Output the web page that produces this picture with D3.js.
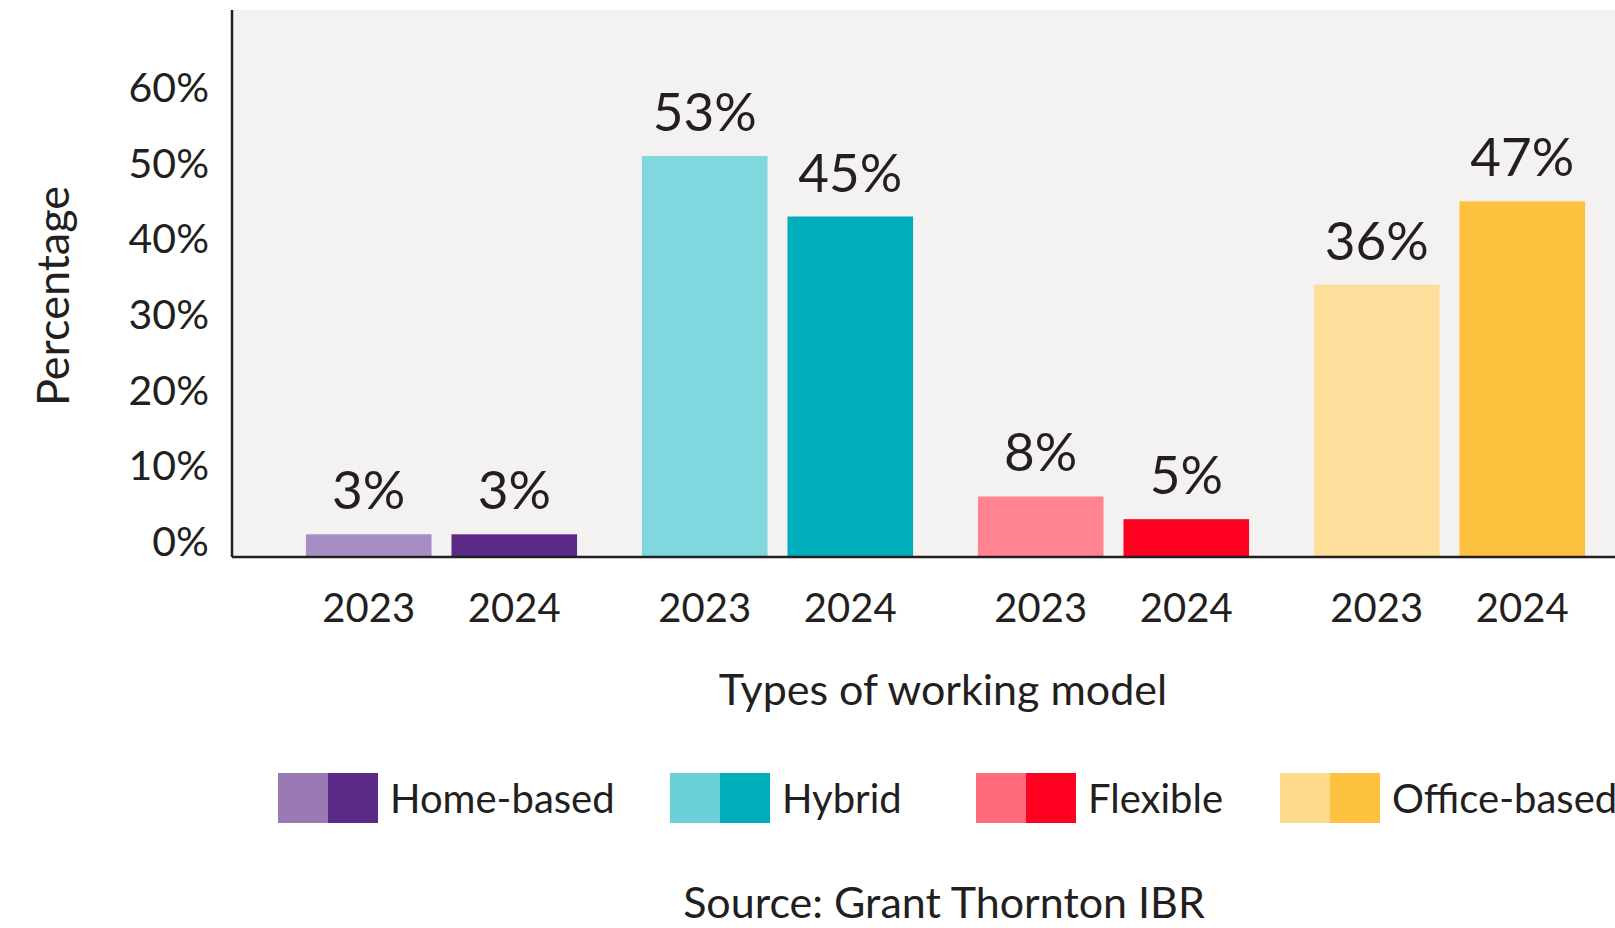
<!DOCTYPE html>
<html>
<head>
<meta charset="utf-8">
<script src="https://cdn.jsdelivr.net/npm/d3@7"></script>
<style>
  html, body { margin: 0; padding: 0; background: #fff; }
  svg { display: block; font-family: Lato, "Noto Sans", sans-serif; }
  text { fill: #231f20; }
</style>
</head>
<body>
<svg class="chart" width="1615" height="928"></svg>
<script>
const width = 1615;
const height = 928;

// data
const models = ["Home-based", "Hybrid", "Flexible", "Office-based"];
const years = ["2023", "2024"];
const values2023 = [3, 53, 8, 36];
const values2024 = [3, 45, 5, 47];
const yTicks = [0, 10, 20, 30, 40, 50, 60];
const barColors2023 = ["#a68dc4", "#80d7de", "#ff8391", "#fddf9b"];
const barColors2024 = ["#5b2a86", "#00adbb", "#ff0021", "#fdc13f"];
const legendColors2023 = ["#9a7ab5", "#6acfd6", "#ff6a7c", "#fdd98a"];

const svg = d3.select(".chart");

const plotLeft = 232;
const plotTop = 10;
const baseY = 557;

const y = d3.scaleLinear().domain([0, 60]).range([baseY, 103]);

const x0 = d3
  .scaleBand()
  .domain(models)
  .range([plotLeft, 1659])
  .paddingInner(0.193)
  .paddingOuter(0.22);

const x1 = d3
  .scaleBand()
  .domain(years)
  .range([0, x0.bandwidth()])
  .paddingInner(0.137);

// plot background
svg
  .append("rect")
  .attr("x", plotLeft)
  .attr("y", plotTop)
  .attr("width", width - plotLeft)
  .attr("height", baseY - plotTop)
  .attr("fill", "#f3f2f0");

const rows = models.map((m, i) => ({
  model: m,
  bars: [
    { year: "2023", value: values2023[i], color: barColors2023[i] },
    { year: "2024", value: values2024[i], color: barColors2024[i] },
  ],
}));

const groups = svg
  .selectAll(".group")
  .data(rows)
  .enter()
  .append("g")
  .attr("class", "group")
  .attr("transform", (d) => `translate(${x0(d.model)},0)`);

groups
  .selectAll("rect")
  .data((d) => d.bars)
  .enter()
  .append("rect")
  .attr("x", (d) => x1(d.year))
  .attr("y", (d) => y(d.value))
  .attr("width", x1.bandwidth())
  .attr("height", (d) => baseY - y(d.value))
  .attr("fill", (d) => d.color);

// value labels
groups
  .selectAll(".value")
  .data((d) => d.bars)
  .enter()
  .append("text")
  .attr("class", "value")
  .attr("x", (d) => x1(d.year) + x1.bandwidth() / 2)
  .attr("y", (d) => y(d.value) - 25)
  .attr("text-anchor", "middle")
  .style("font-size", "53px")
  .text((d) => d.value + "%");

// year labels under bars
groups
  .selectAll(".year")
  .data((d) => d.bars)
  .enter()
  .append("text")
  .attr("class", "year")
  .attr("x", (d) => x1(d.year) + x1.bandwidth() / 2)
  .attr("y", 622)
  .attr("text-anchor", "middle")
  .style("font-size", "40px")
  .text((d) => d.year);

// y axis labels
const yAxis = d3
  .axisLeft(y)
  .tickValues(yTicks)
  .tickSize(0)
  .tickPadding(0)
  .tickFormat((d) => d + "%");

const yg = svg
  .append("g")
  .attr("transform", "translate(209,0)")
  .call(yAxis);
yg.select(".domain").remove();
yg.selectAll("text")
  .attr("dy", "-0.04em")
  .style("font-size", "41px")
  .style("font-family", "Lato, sans-serif")
  .attr("fill", "#231f20");

// axis lines
svg
  .append("line")
  .attr("x1", plotLeft)
  .attr("x2", plotLeft)
  .attr("y1", plotTop)
  .attr("y2", baseY)
  .attr("stroke", "#231f20")
  .attr("stroke-width", 2.5);

svg
  .append("line")
  .attr("x1", plotLeft)
  .attr("x2", width)
  .attr("y1", baseY)
  .attr("y2", baseY)
  .attr("stroke", "#231f20")
  .attr("stroke-width", 2.5);

// axis titles
svg
  .append("text")
  .attr("x", 943)
  .attr("y", 705)
  .attr("text-anchor", "middle")
  .style("font-size", "43px")
  .text("Types of working model");

svg
  .append("text")
  .attr("transform", "translate(69,296) rotate(-90)")
  .attr("text-anchor", "middle")
  .style("font-size", "45px")
  .text("Percentage");

// legend
const legendX = [278, 670, 976, 1280];
const legend = svg
  .selectAll(".legend")
  .data(models)
  .enter()
  .append("g")
  .attr("class", "legend")
  .attr("transform", (d, i) => `translate(${legendX[i]},773)`);

legend
  .append("rect")
  .attr("width", 50)
  .attr("height", 50)
  .attr("fill", (d, i) => legendColors2023[i]);

legend
  .append("rect")
  .attr("x", 50)
  .attr("width", 50)
  .attr("height", 50)
  .attr("fill", (d, i) => barColors2024[i]);

legend
  .append("text")
  .attr("x", 112)
  .attr("y", 40)
  .style("font-size", "40px")
  .text((d) => d);

// source
svg
  .append("text")
  .attr("x", 944)
  .attr("y", 918)
  .attr("text-anchor", "middle")
  .style("font-size", "43px")
  .text("Source: Grant Thornton IBR");
</script>
</body>
</html>
